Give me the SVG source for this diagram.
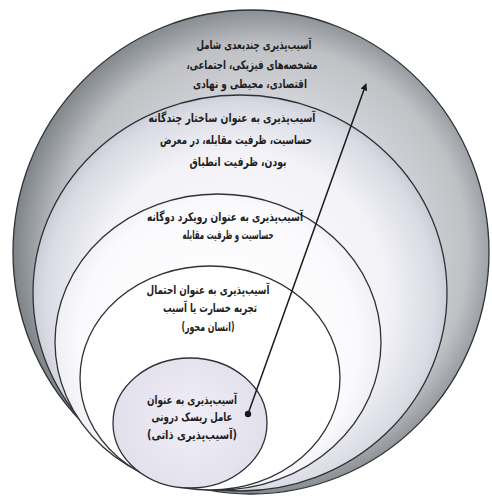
<svg xmlns="http://www.w3.org/2000/svg" width="492" height="496" viewBox="0 0 492 496">
<defs>
<style>
.ring{stroke:#2e3236;stroke-width:1.3}
.t{font-family:"DejaVu Sans","Noto Sans",sans-serif;font-weight:bold;font-size:12px;fill:#1e1e22;text-anchor:middle;direction:rtl}
.conn{stroke:#1a1a1a;stroke-width:1.5;fill:none}
</style>
<radialGradient id="g1" gradientUnits="userSpaceOnUse" cx="262" cy="250" r="250">
<stop offset="0" stop-color="#ffffff"/>
<stop offset="0.5" stop-color="#dcdce2"/>
<stop offset="0.82" stop-color="#bfc1c5"/>
<stop offset="1" stop-color="#7c8287"/>
</radialGradient>
<radialGradient id="g2" gradientUnits="userSpaceOnUse" cx="240" cy="300" r="212">
<stop offset="0" stop-color="#ffffff"/>
<stop offset="0.7" stop-color="#f2f2f7"/>
<stop offset="0.92" stop-color="#dadae4"/>
<stop offset="1" stop-color="#c6c8d0"/>
</radialGradient>
<radialGradient id="g3" gradientUnits="userSpaceOnUse" cx="218" cy="342" r="165">
<stop offset="0" stop-color="#ffffff"/>
<stop offset="0.85" stop-color="#fafafc"/>
<stop offset="1" stop-color="#eeeef4"/>
</radialGradient>
<radialGradient id="g5" gradientUnits="userSpaceOnUse" cx="190" cy="420" r="80">
<stop offset="0" stop-color="#f0eef6"/>
<stop offset="1" stop-color="#e2dfec"/>
</radialGradient>
<marker id="ah" viewBox="0 0 10 10" refX="9" refY="5" markerWidth="7" markerHeight="7" orient="auto" markerUnits="userSpaceOnUse">
<path d="M0,0 L10,5 L0,10 z" fill="#1a1a1a"/>
</marker>
</defs>
<rect width="492" height="496" fill="#ffffff"/>
<g id="ring1">
<ellipse class="ring" cx="251" cy="252" rx="238" ry="242" fill="url(#g1)"/>
<text class="t" x="254" y="49" textLength="115" lengthAdjust="spacingAndGlyphs">آسیب‌پذیری چندبعدی شامل</text>
<text class="t" x="252" y="69" textLength="131" lengthAdjust="spacingAndGlyphs">مشخصه‌های فیزیکی، اجتماعی،</text>
<text class="t" x="250" y="88" textLength="114" lengthAdjust="spacingAndGlyphs">اقتصادی، محیطی و نهادی</text>
</g>
<g id="ring2">
<ellipse class="ring" cx="240" cy="293" rx="207" ry="198" fill="url(#g2)"/>
<text class="t" x="232" y="122" textLength="167" lengthAdjust="spacingAndGlyphs">آسیب‌پذیری به عنوان ساختار چندگانه</text>
<text class="t" x="236" y="144" textLength="152" lengthAdjust="spacingAndGlyphs">حساسیت، ظرفیت مقابله، در معرض</text>
<text class="t" x="238" y="166" textLength="97" lengthAdjust="spacingAndGlyphs">بودن، ظرفیت انطباق</text>
</g>
<g id="ring3">
<ellipse class="ring" cx="218" cy="342" rx="163" ry="148" fill="url(#g3)"/>
<text class="t" x="225" y="221" textLength="156" lengthAdjust="spacingAndGlyphs">آسیب‌پذیری به عنوان رویکرد دوگانه</text>
<text class="t" x="228" y="239" textLength="91" lengthAdjust="spacingAndGlyphs">حساسیت و ظرفیت  مقابله</text>
</g>
<g id="ring4">
<ellipse class="ring" cx="210" cy="378" rx="130" ry="112" fill="#ffffff"/>
<text class="t" x="208" y="294" textLength="123" lengthAdjust="spacingAndGlyphs">آسیب‌پذیری به عنوان احتمال</text>
<text class="t" x="210" y="312" textLength="94" lengthAdjust="spacingAndGlyphs">تجربه خسارت یا آسیب</text>
<text class="t" x="208" y="331" textLength="53" lengthAdjust="spacingAndGlyphs">(انسان محور)</text>
</g>
<g id="ring5">
<ellipse class="ring" cx="190" cy="423" rx="77" ry="65" fill="url(#g5)"/>
<text class="t" x="192" y="404" textLength="90" lengthAdjust="spacingAndGlyphs">آسیب‌پذیری به عنوان</text>
<text class="t" x="192" y="421" textLength="81" lengthAdjust="spacingAndGlyphs">عامل ریسک درونی</text>
<text class="t" x="192" y="439" textLength="90" lengthAdjust="spacingAndGlyphs">(آسیب‌پذیری ذاتی)</text>
</g>
<g id="connectors">
<line class="conn" x1="248" y1="414" x2="366" y2="84" marker-end="url(#ah)"/>
<circle cx="248" cy="414" r="3.2" fill="#1a1a1a"/>
</g>
</svg>
